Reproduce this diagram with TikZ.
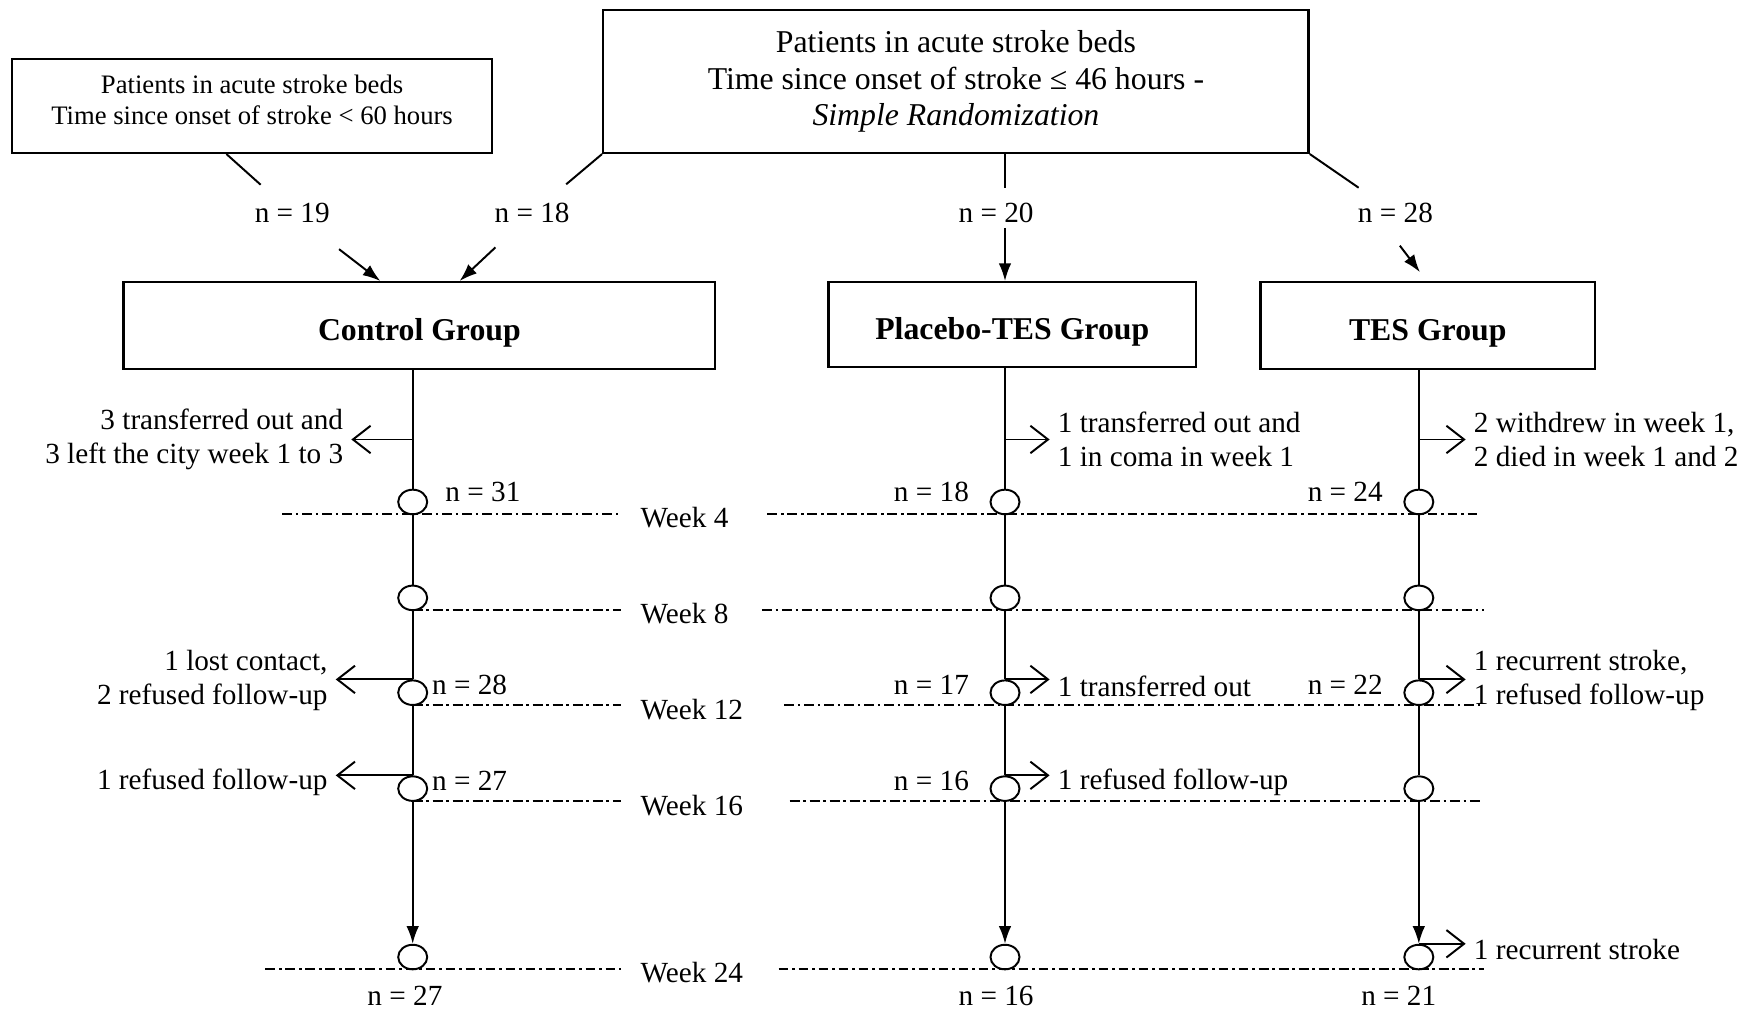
\documentclass[tikz,border=0pt]{standalone}
\usepackage{fontspec}
\setmainfont{Liberation Serif}
\usetikzlibrary{shapes.geometric,arrows.meta}

\tikzset{
  box/.style={draw, line width=0.6pt, inner sep=0pt, align=center},
  group/.style={box, font=\fontsize{8.1}{9.4}\selectfont\bfseries, text height=0.74em, text depth=0pt},
  txt/.style={font=\fontsize{7.45}{8.8}\selectfont, inner sep=1pt},
  ring/.style={draw, ellipse, line width=0.5pt, minimum width=0.26cm, minimum height=0.22cm, inner sep=0pt},
  weekline/.style={line width=0.45pt, dash pattern=on 2.5pt off 1pt on 0.6pt off 1pt},
  drop/.style={line width=0.5pt, -{Straight Barb[length=4.5pt,width=7pt]}},
  feed/.style={line width=0.5pt, -{Latex[length=4.5pt,width=3.2pt]}}
}

\begin{document}
\begin{tikzpicture}[x=0.01cm, y=-0.01cm, line width=0.5pt]
  \useasboundingbox (0,0) rectangle (1568,905);

  % recruitment boxes
  \node[box, minimum width=4.3cm, minimum height=0.84cm] (early) at (226,95) {};
  \node[font=\fontsize{6.8}{7.9}\selectfont, align=center, inner sep=0pt] (earlytxt) at (226,89.5)
    {Patients in acute stroke beds\\Time since onset of stroke < 60 hours};
  \node[box, font=\fontsize{8.1}{9.4}\selectfont, minimum width=6.32cm, minimum height=1.28cm] (rand) at (857,73)
    {Patients in acute stroke beds\\Time since onset of stroke ≤ 46 hours -\\\textit{Simple Randomization}};

  % numbers allocated
  \node[txt] (n19in) at (262,191) {n = 19};
  \node[txt] (n18in) at (477,191) {n = 18};
  \node[txt] (n20in) at (893,191) {n = 20};
  \node[txt] (n28in) at (1251,191) {n = 28};

  % groups
  \node[group, minimum width=5.3cm, minimum height=0.78cm] (ctrl) at (376,292) {Control Group};
  \node[group, minimum width=3.29cm, minimum height=0.76cm] (plac) at (907.5,291) {Placebo-TES Group};
  \node[group, minimum width=3.0cm, minimum height=0.78cm] (tes) at (1280,292) {TES Group};

  \draw[shorten >=0.38cm] ([xshift=-0.23cm]early.south) -- (n19in.center);
  \draw[shorten >=0.40cm] (rand.south west) -- (n18in.center);
  \draw[shorten >=0.09cm] ([xshift=0.44cm]rand.south) -- ([xshift=0.44cm]rand.south |- n20in.north);
  \draw[shorten >=0.40cm] (rand.south east) -- (n28in.center);

  \draw[feed, shorten <=0.53cm] (n19in.center) -- ([xshift=-0.35cm]ctrl.north);
  \draw[feed, shorten <=0.45cm] (n18in.center) -- ([xshift=0.36cm]ctrl.north);
  \draw[feed] ([xshift=-0.065cm]plac.north |- n20in.south) -- ([xshift=-0.065cm]plac.north);
  \coordinate (tesin) at (1273,244);
  \draw[feed] ([xshift=0.04cm, yshift=-0.16cm]n28in.south) -- (tesin);

  % week lines
  \draw[weekline] (253,461) -- (557,461);  \draw[weekline] (688,461) -- (1327,461);
  \draw[weekline] (370,547) -- (557,547);  \draw[weekline] (683,547) -- (1330,547);
  \draw[weekline] (370,632) -- (557,632);  \draw[weekline] (703,632) -- (1330,632);
  \draw[weekline] (370,718) -- (557,718);  \draw[weekline] (708,718) -- (1330,718);
  \draw[weekline] (238,869) -- (557,869);  \draw[weekline] (698,869) -- (1330,869);
  \node[txt, anchor=west] (wk4) at (570,464) {Week 4};
  \node[txt, anchor=west] (wk8) at (570,550) {Week 8};
  \node[txt, anchor=west] (wk12) at (570,636) {Week 12};
  \node[txt, anchor=west] (wk16) at (570,722) {Week 16};
  \node[txt, anchor=west] (wk24) at (570,872) {Week 24};

  % follow-up points
  \node[ring] (c4) at (370,450) {};   \node[ring] (c8) at (370,536) {};
  \node[ring] (c12) at (370,621) {};  \node[ring] (c16) at (370,707) {};
  \node[ring] (c24) at (370,858) {};
  \node[ring] (p4) at (901,450) {};   \node[ring] (p8) at (901,536) {};
  \node[ring] (p12) at (901,621) {};  \node[ring] (p16) at (901,707) {};
  \node[ring] (p24) at (901,858) {};
  \node[ring] (t4) at (1272,450) {};  \node[ring] (t8) at (1272,536) {};
  \node[ring] (t12) at (1272,621) {}; \node[ring] (t16) at (1272,707) {};
  \node[ring] (t24) at (1272,858) {};

  \draw (ctrl.south -| c4) -- (c4) -- (c8) -- (c12) -- (c16);
  \draw[feed] (c16) -- (c24);
  \draw (plac.south -| p4) -- (p4) -- (p8) -- (p12) -- (p16);
  \draw[feed] (p16) -- (p24);
  \draw (tes.south -| t4) -- (t4) -- (t8) -- (t12) -- (t16);
  \draw[feed] (t16) -- (t24);

  % sample sizes
  \node[txt, anchor=west] (nc4) at (395,441) {n = 31};
  \node[txt, anchor=east] (np4) at (873,441) {n = 18};
  \node[txt, anchor=east] (nt4) at (1244,441) {n = 24};
  \node[txt, anchor=west] (nc12) at (383,614) {n = 28};
  \node[txt, anchor=east] (np12) at (873,614) {n = 17};
  \node[txt, anchor=east] (nt12) at (1244,614) {n = 22};
  \node[txt, anchor=west] (nc16) at (383,700) {n = 27};
  \node[txt, anchor=east] (np16) at (873,700) {n = 16};
  \node[txt] (nc24) at (363,893) {n = 27};
  \node[txt] (np24) at (893,893) {n = 16};
  \node[txt] (nt24) at (1254,893) {n = 21};

  % losses
  \node[txt, anchor=east, align=right] (xc1) at (312,394) {3 transferred out and\\3 left the city week 1 to 3};
  \node[txt, anchor=west, align=left] (xp1) at (944,394) {1 transferred out and\\1 in coma in week 1};
  \node[txt, anchor=west, align=left] (xt1) at (1317,394) {2 withdrew in week 1,\\2 died in week 1 and 2};
  \node[txt, anchor=east, align=right] (xc12) at (298,610) {1 lost contact,\\2 refused follow-up};
  \node[txt, anchor=west] (xp12) at (944,615) {1 transferred out};
  \node[txt, anchor=west, align=left] (xt12) at (1317,610) {1 recurrent stroke,\\1 refused follow-up};
  \node[txt, anchor=east] (xc16) at (298,701) {1 refused follow-up};
  \node[txt, anchor=west] (xp16) at (944,701) {1 refused follow-up};
  \node[txt, anchor=west] (xt24) at (1317,851) {1 recurrent stroke};

  \draw[drop, shorten >=0.03cm] (c4 |- xc1) -- (xc1);
  \draw[drop, shorten >=0.03cm] (p4 |- xp1) -- (xp1);
  \draw[drop, shorten >=0.03cm] (t4 |- xt1) -- (xt1);
  \draw[drop, shorten >=0.03cm] (c12.north) -- (c12.north -| xc12.east);
  \draw[drop, shorten >=0.03cm] (p12.north) -- (p12.north -| xp12.west);
  \draw[drop, shorten >=0.03cm] (t12.north) -- (t12.north -| xt12.west);
  \draw[drop, shorten >=0.03cm] (c16.north) -- (c16.north -| xc16.east);
  \draw[drop, shorten >=0.03cm] (p16.north) -- (p16.north -| xp16.west);
  \draw[drop, shorten >=0.03cm] (t24.north) -- (t24.north -| xt24.west);
\end{tikzpicture}
\end{document}
